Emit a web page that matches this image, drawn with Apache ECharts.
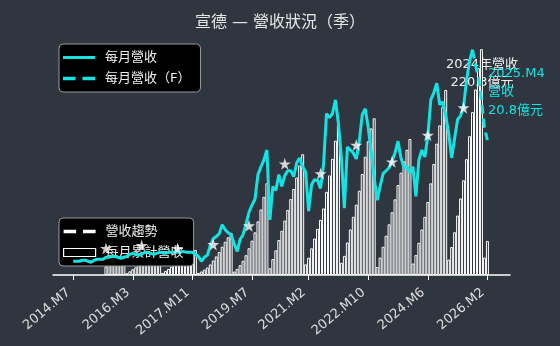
<!DOCTYPE html>
<html>
<head>
<meta charset="utf-8">
<script src="https://cdn.jsdelivr.net/npm/echarts@6/dist/echarts.min.js"></script>
<style>
html, body { margin: 0; padding: 0; background: #30363f; }
#chart { width: 560px; height: 346px; }
</style>
</head>
<body>
<div id="chart"></div>
<script>
// 月份：2014.M7 起共 140 個月
const startYear = 2014, startMonth = 7, monthCount = 140;
const months = [];
for (let i = 0; i < monthCount; i++) {
  const m = startMonth - 1 + i;
  months.push((startYear + Math.floor(m / 12)) + '.M' + (m % 12 + 1));
}
const tickLabels = ['2014.M7', '2016.M3', '2017.M11', '2019.M7', '2021.M2', '2022.M10', '2024.M6', '2026.M2'];

// 每月營收（億元），idx 0 ~ 134
const monthlyRevenue = [
  1.4, 1.4, 1.4, 1.5, 1.5, 1.4, 1.3, 1.5, 1.6, 1.6,
  1.6, 1.8, 1.8, 1.9, 1.9, 1.8, 1.7, 1.8, 1.9, 2.1,
  2.2, 2.1, 2.0, 2.1, 2.3, 2.3, 2.2, 2.1, 2.2, 2.3,
  2.3, 2.2, 2.3, 2.3, 2.3, 2.3, 2.3, 2.4, 2.3, 2.3,
  2.3, 2.1, 1.9, 1.4, 1.8, 2.0, 3.0, 3.7, 3.9, 4.2,
  5.1, 4.6, 4.3, 4.1, 3.2, 2.4, 3.6, 4.1, 5.2, 6.4,
  7.1, 7.7, 10.2, 11.0, 11.7, 12.7, 5.6, 9.0, 8.6, 10.2,
  9.0, 10.1, 10.6, 10.6, 10.0, 11.4, 11.9, 11.0, 10.5, 6.5,
  9.2, 9.7, 9.6, 8.8, 11.2, 16.4, 16.0, 16.4, 17.8, 15.4,
  11.9, 6.8, 13.0, 12.7, 12.4, 11.8, 13.6, 16.3, 16.9, 15.0,
  12.5, 9.9, 7.6, 9.0, 10.3, 10.6, 10.9, 11.6, 12.4, 13.6,
  11.9, 10.9, 11.0, 10.4, 11.0, 8.0, 11.7, 12.7, 12.0, 14.1,
  17.8, 18.5, 19.5, 17.3, 17.6, 16.2, 14.4, 11.9, 13.9, 15.8,
  16.2, 17.1, 19.8, 21.7, 22.9
];
// 每月營收（F）
const forecastStart = 134;
const forecastRevenue = [22.9, 21.3, 20.1, 17.8, 15.0, 13.7];

// 每月累計營收（億元），idx 11 ~ 139
const cumStart = 11;
const cumRevenue = [
  8.4, 10.1, 11.8, 13.5, 15.1, 16.7, 18.3,
  1.7, 3.6, 5.6, 7.5, 9.4, 11.3, 13.3, 15.5, 17.5, 19.4, 21.3, 23.4,
  2.0, 4.0, 6.0, 8.1, 10.2, 12.2, 14.3, 16.4, 18.5, 20.5, 22.5, 24.4,
  2.0, 3.4, 5.2, 7.3, 10.3, 14.1, 18.1, 22.4, 27.6, 32.4, 36.8, 41.0,
  3.3, 5.9, 9.6, 13.9, 19.3, 26.1, 33.5, 41.6, 52.3, 63.9, 76.2, 89.5,
  6.6, 15.5, 24.1, 34.1, 43.1, 53.1, 63.5, 74.0, 83.9, 95.1, 106.9, 117.8,
  10.4, 16.9, 26.0, 35.6, 45.0, 53.8, 64.9, 81.2, 97.1, 113.3, 131.0, 146.3,
  11.9, 18.7, 31.7, 44.4, 56.8, 68.6, 82.2, 98.5, 115.4, 130.5, 143.0, 152.9,
  7.8, 17.0, 27.5, 38.3, 49.4, 61.2, 73.8, 87.7, 99.8, 110.9, 122.1, 132.7,
  11.2, 19.4, 31.4, 44.4, 56.7, 71.2, 89.4, 108.3, 128.2, 145.9, 163.9, 180.5,
  15.0, 27.3, 41.7, 58.0, 74.7, 92.4, 113.0, 135.4, 158.9, 181.0, 201.8, 220.3,
  17.0, 33.2
];

// 營收趨勢（星號）
const trendMonth = ['2015.M6', '2016.M6', '2017.M6', '2018.M6', '2019.M6', '2020.M6', '2021.M6', '2022.M6', '2023.M6', '2024.M6', '2025.M6'];
const trendValue = [2.7, 3.0, 2.7, 3.1, 5.0, 11.3, 10.3, 13.2, 11.5, 14.2, 17.0];

const BG = '#30363f';
const CYAN = '#14e3e3';
const FONT = '"DejaVu Sans", "Noto Sans CJK TC", sans-serif';
const tickPos = tickLabels.map(t => months.indexOf(t));

// legend icons
const ICON_SOLID = 'path://M0,0H32V3H0Z';
const ICON_DASH = 'path://M0,0H11V3H0ZM17,0H28V3H17Z';
const ICON_BOX = 'path://M0,0H32V8H0Z';

const legendBase = {
  orient: 'vertical',
  left: 59,
  padding: [7, 10, 7, 4],
  itemWidth: 32, itemHeight: 14, itemGap: 8,
  backgroundColor: '#000',
  borderColor: '#9a9a9a', borderWidth: 1, borderRadius: 4,
  textStyle: { color: '#eeeeee', fontSize: 13, padding: [0, 0, 0, 5], fontFamily: FONT },
  z: 4
};

const chart = echarts.init(document.getElementById('chart'));
chart.setOption({
  animation: false,
  backgroundColor: BG,
  textStyle: { fontFamily: FONT },
  title: {
    text: '宣德 — 營收狀況（季）',
    left: 'center',
    top: 10,
    textStyle: { color: '#e6e6e6', fontSize: 16, fontWeight: 'normal', fontFamily: FONT }
  },
  grid: { left: 53, right: 50, top: 29, bottom: 71 },
  legend: [
    Object.assign({}, legendBase, {
      top: 44,
      data: [
        { name: '每月營收', icon: ICON_SOLID },
        { name: '每月營收（F）', icon: ICON_DASH }
      ]
    }),
    Object.assign({}, legendBase, {
      top: 218,
      data: [
        { name: '營收趨勢', icon: ICON_DASH },
        { name: '每月累計營收', icon: ICON_BOX, itemStyle: { color: '#000', borderColor: '#fff', borderWidth: 1.2 } }
      ]
    })
  ],
  xAxis: {
    type: 'value',
    min: -6.78,
    max: 146.58,
    axisLine: { lineStyle: { color: '#ffffff', width: 1.5 } },
    axisTick: { customValues: tickPos, length: 5, lineStyle: { color: '#ffffff' } },
    axisLabel: {
      customValues: tickPos,
      rotate: 40,
      margin: 12,
      padding: [0, 6, 0, 0],
      color: '#dddddd',
      fontSize: 13,
      fontFamily: FONT,
      formatter: v => months[Math.round(v)]
    },
    splitLine: { show: false }
  },
  yAxis: [
    { type: 'value', min: 0, max: 240, show: false, splitLine: { show: false } },
    { type: 'value', min: 0, max: 25, show: false, splitLine: { show: false } }
  ],
  series: [
    {
      name: '每月累計營收',
      type: 'bar',
      yAxisIndex: 0,
      barWidth: 3,
      data: cumRevenue.map((v, i) => [cumStart + i, v]),
      itemStyle: { color: BG, borderColor: '#ffffff', borderWidth: 1 },
      z: 2
    },
    {
      name: '每月營收',
      type: 'line',
      yAxisIndex: 1,
      symbol: 'none',
      data: monthlyRevenue.map((v, i) => [i, v]),
      lineStyle: { color: CYAN, width: 3 },
      itemStyle: { color: CYAN },
      z: 6
    },
    {
      name: '每月營收（F）',
      type: 'line',
      yAxisIndex: 1,
      symbol: 'none',
      data: forecastRevenue.map((v, i) => [forecastStart + i, v]),
      lineStyle: { color: CYAN, width: 3, type: [9, 5] },
      itemStyle: { color: CYAN },
      z: 6
    },
    {
      name: '營收趨勢',
      type: 'line',
      yAxisIndex: 1,
      symbol: 'none',
      data: [],
      lineStyle: { color: '#ffffff', width: 3, type: [10, 6] },
      itemStyle: { color: '#ffffff' }
    },
    {
      name: '趨勢點',
      type: 'scatter',
      yAxisIndex: 1,
      symbol: 'path://M50,0L61.2,34.5L97.6,34.5L68.2,55.9L79.4,90.5L50,69.1L20.6,90.5L31.8,55.9L2.4,34.5L38.8,34.5Z',
      symbolSize: 12,
      data: trendMonth.map((m, i) => [months.indexOf(m), trendValue[i]]),
      itemStyle: { color: '#ffffff' },
      z: 7
    }
  ],
  graphic: [
    {
      type: 'text', z: 1,
      style: {
        text: '2024年營收\n220.3億元',
        x: 482, y: 56, textAlign: 'center', textVerticalAlign: 'top',
        lineHeight: 18, fill: '#eeeeee', font: '13px ' + FONT
      }
    },
    {
      type: 'text', z: 1,
      style: {
        text: '2025.M4\n營收\n20.8億元',
        x: 488, y: 64, textAlign: 'left', textVerticalAlign: 'top',
        lineHeight: 18.5, fill: CYAN, font: '13px ' + FONT
      }
    }
  ]
});
</script>
</body>
</html>
